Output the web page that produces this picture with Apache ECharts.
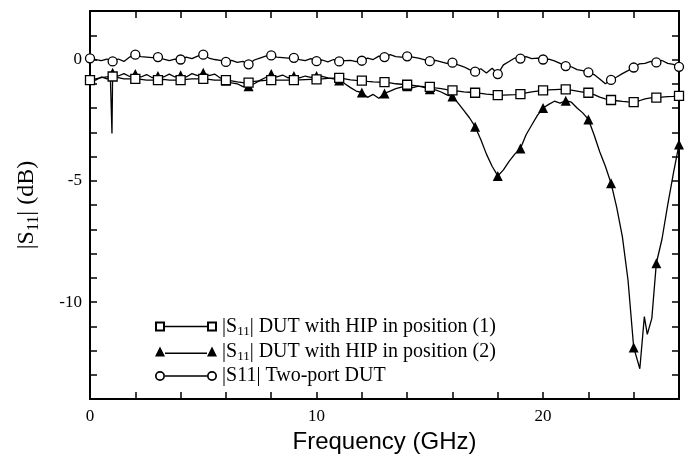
<!DOCTYPE html>
<html>
<head>
<meta charset="utf-8">
<script src="https://cdn.jsdelivr.net/npm/echarts@6/dist/echarts.min.js"></script>
<style>html,body{margin:0;padding:0;background:#fff}#c{width:687px;height:459px}</style>
</head>
<body>
<div id="c"></div>
<script>
// Frequency grid (GHz) for |S11| position (1) and two-port DUT
const freq = [
 0,0.25,0.5,0.75, 1,1.25,1.5,1.75, 2,2.25,2.5,2.75, 3,3.25,3.5,3.75,
 4,4.25,4.5,4.75, 5,5.25,5.5,5.75, 6,6.25,6.5,6.75, 7,7.25,7.5,7.75,
 8,8.25,8.5,8.75, 9,9.25,9.5,9.75, 10,10.25,10.5,10.75, 11,11.25,11.5,11.75,
 12,12.25,12.5,12.75, 13,13.25,13.5,13.75, 14,14.25,14.5,14.75, 15,15.25,15.5,15.75,
 16,16.25,16.5,16.75, 17,17.25,17.5,17.75, 18,18.25,18.5,18.75, 19,19.25,19.5,19.75,
 20,20.25,20.5,20.75, 21,21.25,21.5,21.75, 22,22.25,22.5,22.75, 23,23.25,23.5,23.75,
 24,24.25,24.5,24.75, 25,25.25,25.5,25.75, 26
];
// |S11| DUT with HIP in position (1) (dB)
const s11Pos1 = [
 -0.85,-0.8,-0.75,-0.72, -0.7,-0.75,-0.8,-0.8, -0.8,-0.82,-0.85,-0.85, -0.85,-0.82,-0.85,-0.85,
 -0.85,-0.82,-0.8,-0.8, -0.8,-0.82,-0.85,-0.85, -0.85,-0.88,-0.92,-0.95, -0.95,-0.9,-0.88,-0.86,
 -0.85,-0.85,-0.85,-0.85, -0.85,-0.84,-0.83,-0.82, -0.82,-0.8,-0.78,-0.77, -0.76,-0.8,-0.84,-0.86,
 -0.87,-0.9,-0.92,-0.93, -0.93,-0.96,-1.0,-1.02, -1.04,-1.07,-1.1,-1.12, -1.13,-1.17,-1.2,-1.24,
 -1.27,-1.3,-1.33,-1.35, -1.37,-1.4,-1.43,-1.45, -1.47,-1.47,-1.46,-1.45, -1.43,-1.38,-1.33,-1.3,
 -1.27,-1.25,-1.24,-1.23, -1.23,-1.26,-1.3,-1.34, -1.37,-1.45,-1.55,-1.62, -1.67,-1.7,-1.73,-1.75,
 -1.76,-1.7,-1.62,-1.58, -1.57,-1.55,-1.53,-1.52, -1.5
];
// |S11| two-port DUT (dB)
const s11TwoPort = [
 0.05,0.0,-0.05,0.02, -0.08,0.02,-0.08,0.1, 0.2,0.12,0.1,0.08, 0.1,0.02,-0.05,0.02,
 0.0,0.1,0.04,0.14, 0.2,0.06,0.0,-0.04, -0.1,-0.04,-0.12,-0.08, -0.2,-0.02,0.06,0.14,
 0.17,0.1,0.08,0.06, 0.07,0.0,-0.05,0.04, -0.07,-0.02,-0.1,0.0, -0.08,-0.05,-0.04,-0.09,
 -0.05,0.06,0.0,0.14, 0.1,0.2,0.12,0.1, 0.13,0.1,0.06,0.0, -0.07,-0.04,-0.1,-0.16,
 -0.13,-0.22,-0.3,-0.42, -0.5,-0.38,-0.56,-0.36, -0.6,-0.22,-0.08,0.06, 0.04,0.12,0.04,0.06,
 0.0,0.02,-0.06,-0.16, -0.27,-0.3,-0.42,-0.46, -0.53,-0.62,-0.8,-1.0, -0.84,-0.72,-0.58,-0.46,
 -0.33,-0.18,-0.16,-0.08, -0.12,-0.04,-0.16,-0.2, -0.3
];
// Frequency grid (GHz) for |S11| position (2)
const freqPos2 = [
 0,0.25,0.5,0.75,0.9,0.97, 1,1.25,1.5,1.75, 2,2.25,2.5,2.75, 3,3.25,3.5,3.75,
 4,4.25,4.5,4.75, 5,5.25,5.5,5.75, 6,6.25,6.5,6.75, 7,7.25,7.5,7.75,
 8,8.25,8.5,8.75, 9,9.25,9.5,9.75, 10,10.25,10.5,10.75, 11,11.25,11.5,11.75,
 12,12.25,12.5,12.75, 13,13.25,13.5,13.75, 14,14.25,14.5,14.75, 15,15.25,15.5,15.75,
 16,16.25,16.5,16.75, 17,17.25,17.5,17.75, 18,18.25,18.5,18.75, 19,19.25,19.5,19.75,
 20,20.25,20.5,20.75, 21,21.25,21.5,21.75, 22,22.25,22.5,22.75, 23,23.25,23.5,23.75,
 24,24.27,24.47,24.6,24.8, 25,25.25,25.5,25.75, 26
];
// |S11| DUT with HIP in position (2) (dB)
const s11Pos2 = [
 -0.8,-0.85,-0.72,-0.8,-0.75,-3.05, -0.55,-0.68,-0.58,-0.7, -0.6,-0.72,-0.62,-0.75, -0.68,-0.72,-0.6,-0.72,
 -0.65,-0.72,-0.58,-0.66, -0.55,-0.66,-0.6,-0.76, -0.88,-0.96,-1.0,-1.12, -1.1,-1.0,-0.86,-0.74,
 -0.6,-0.72,-0.64,-0.76, -0.68,-0.76,-0.68,-0.74, -0.68,-0.7,-0.76,-0.8, -0.87,-1.0,-1.16,-1.3,
 -1.36,-1.56,-1.44,-1.6, -1.4,-1.3,-1.2,-1.14, -1.1,-1.16,-1.1,-1.15, -1.23,-1.25,-1.34,-1.46,
 -1.53,-1.8,-2.1,-2.4, -2.77,-3.3,-3.9,-4.4, -4.8,-4.55,-4.2,-3.9, -3.67,-3.1,-2.7,-2.3,
 -2.0,-1.85,-1.72,-1.8, -1.7,-1.76,-2.0,-2.2, -2.47,-3.1,-3.8,-4.4, -5.1,-6.1,-7.3,-9.1,
 -11.87,-12.75,-10.6,-11.33,-10.67, -8.4,-7.4,-6.0,-4.7, -3.5
];
const seriesNames = ['pos1', 'pos2', 'twoport'];
const legendLabels = {
  pos1: '|S{sub|11}| DUT with HIP in position (1)',
  pos2: '|S{sub|11}| DUT with HIP in position (2)',
  twoport: '|S11| Two-port DUT'
};
const xTickLabels = [0, 10, 20];
const yTickLabels = [0, -5, -10];

const pair = (xs, ys) => xs.map((x, i) => [x, ys[i]]);
const markAt = (type) => (v) => (Number.isInteger(v[0]) ? type : 'none');

const serif = 'Liberation Serif';
const axisBase = {
  type: 'value',
  axisLine: { show: true, onZero: false, lineStyle: { color: '#000', width: 2 } },
  axisTick: { show: true, inside: true, length: 7, lineStyle: { color: '#000', width: 1.5 } },
  splitLine: { show: false },
  axisLabel: { show: false }
};

const chart = echarts.init(document.getElementById('c'), null, { renderer: 'canvas' });
chart.setOption({
  animation: false,
  backgroundColor: '#fff',
  grid: { left: 90, right: 8, top: 11, bottom: 53 },
  xAxis: [
    Object.assign({}, axisBase, {
      position: 'bottom', min: 0, max: 26, interval: 2,
      axisLabel: { show: true, margin: 9, color: '#000', fontFamily: serif, fontSize: 17,
        formatter: (v) => (xTickLabels.includes(v) ? String(v) : '') },
      name: 'Frequency (GHz)', nameLocation: 'middle', nameGap: 22,
      nameTextStyle: { color: '#000', fontFamily: 'Liberation Sans', fontSize: 24 }
    }),
    Object.assign({}, axisBase, { position: 'top', min: 0, max: 26, interval: 2 })
  ],
  yAxis: [
    Object.assign({}, axisBase, {
      position: 'left', min: -14, max: 2, interval: 1,
      axisLabel: { show: true, margin: 8, color: '#000', fontFamily: serif, fontSize: 17,
        formatter: (v) => (yTickLabels.includes(v) ? String(v) : '') },
      name: '|S{sub|11}| (dB)', nameLocation: 'middle', nameGap: 48, nameRotate: 90,
      nameTextStyle: { color: '#000', fontFamily: serif, fontSize: 24,
        rich: { sub: { fontFamily: serif, fontSize: 16, color: '#000', padding: [14, 0, 0, 0] } } }
    }),
    Object.assign({}, axisBase, { position: 'right', min: -14, max: 2, interval: 1 })
  ],
  legend: {
    show: true, orient: 'vertical', left: 150, top: 310,
    itemWidth: 62, itemHeight: 10, itemGap: 2,
    selectedMode: false,
    itemStyle: { color: '#000', borderWidth: 0 },
    formatter: (name) => legendLabels[name],
    textStyle: { color: '#000', fontFamily: serif, fontSize: 20, lineHeight: 22,
      rich: { sub: { fontFamily: serif, fontSize: 13, color: '#000', lineHeight: 22, padding: [10, 0, 0, 0] } } },
    data: [
      { name: 'pos1', icon: 'path://M0,0H10V10H0Z M2,2V8H8V2Z M10,4.3H52V5.7H10Z M52,0H62V10H52Z M54,2V8H60V2Z' },
      { name: 'pos2', icon: 'path://M0,10L5,0L10,10Z M10,6H52V7.4H10Z M52,10L57,0L62,10Z' },
      { name: 'twoport', icon: 'path://M0,5A5,5,0,1,0,10,5A5,5,0,1,0,0,5Z M1.7,5A3.3,3.3,0,1,1,8.3,5A3.3,3.3,0,1,1,1.7,5Z M10,4.3H52V5.7H10Z M52,5A5,5,0,1,0,62,5A5,5,0,1,0,52,5Z M53.7,5A3.3,3.3,0,1,1,60.3,5A3.3,3.3,0,1,1,53.7,5Z' }
    ]
  },
  series: [
    {
      name: seriesNames[0], type: 'line', xAxisIndex: 0, yAxisIndex: 0,
      data: pair(freq, s11Pos1),
      symbol: markAt('rect'), symbolSize: 9, showAllSymbol: true,
      lineStyle: { color: '#000', width: 1.3 },
      itemStyle: { color: '#fff', borderColor: '#000', borderWidth: 1.3 },
      z: 3
    },
    {
      name: seriesNames[1], type: 'line', xAxisIndex: 0, yAxisIndex: 0,
      data: pair(freqPos2, s11Pos2),
      symbol: markAt('triangle'), symbolSize: 10, showAllSymbol: true,
      lineStyle: { color: '#000', width: 1.3 },
      itemStyle: { color: '#000', borderColor: '#000', borderWidth: 0 },
      z: 2
    },
    {
      name: seriesNames[2], type: 'line', xAxisIndex: 0, yAxisIndex: 0,
      data: pair(freq, s11TwoPort),
      symbol: markAt('circle'), symbolSize: 9, showAllSymbol: true,
      lineStyle: { color: '#000', width: 1.3 },
      itemStyle: { color: '#fff', borderColor: '#000', borderWidth: 1.3 },
      z: 4
    }
  ]
});
</script>
</body>
</html>
